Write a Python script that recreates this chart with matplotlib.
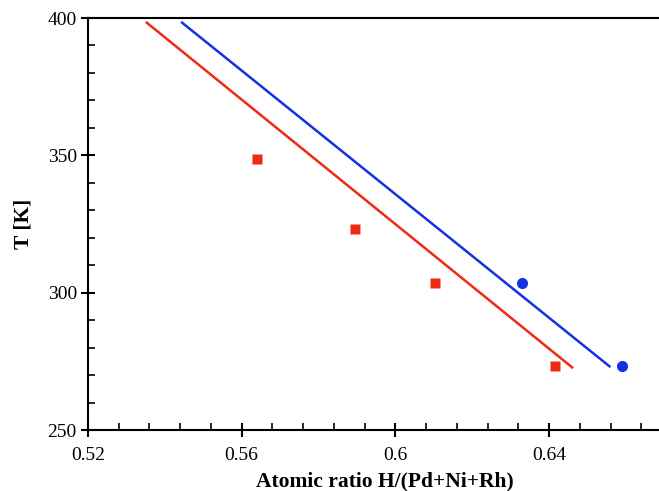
import matplotlib
matplotlib.use("Agg")
import matplotlib.pyplot as plt
from matplotlib.ticker import MultipleLocator

plt.rcParams['font.family'] = ['Liberation Serif', 'DejaVu Serif']

# measured points
red_x = [0.564, 0.5895, 0.6102, 0.6415]
red_y = [348.5, 323.2, 303.4, 273.2]
blue_x = [0.633, 0.659]
blue_y = [303.4, 273.2]

# fitted lines (end points)
red_line_x = [0.5353, 0.646]
red_line_y = [398.3, 272.8]
blue_line_x = [0.5445, 0.6557]
blue_line_y = [398.3, 273.2]

red = '#ee2a12'
blue = '#1232e2'

fig = plt.figure(figsize=(6.59, 4.91), dpi=100)
ax = fig.add_axes([0.1335, 0.1242, 0.8665, 0.8391])

ax.plot(red_line_x, red_line_y, color=red, lw=1.8)
ax.plot(blue_line_x, blue_line_y, color=blue, lw=1.8)
ax.plot(red_x, red_y, 's', color=red, ms=7.5, mec='none')
ax.plot(blue_x, blue_y, 'o', color=blue, ms=8, mec='none')

ax.set_xlim(0.52, 0.6686)
ax.set_ylim(250, 400)
ax.xaxis.set_minor_locator(MultipleLocator(0.008))
ax.yaxis.set_minor_locator(MultipleLocator(10))
ax.set_xticks([0.52, 0.56, 0.6, 0.64])
ax.set_xticklabels(['0.52', '0.56', '0.6', '0.64'])
ax.set_yticks([250, 300, 350, 400])

ax.spines['right'].set_visible(False)
for s in ['left', 'top', 'bottom']:
    ax.spines[s].set_linewidth(1.5)

ax.tick_params(which='major', direction='inout', length=10, width=1.5, labelsize=14)
ax.tick_params(which='minor', direction='in', length=5, width=1.2)
ax.tick_params(axis='x', pad=7)
ax.tick_params(axis='y', pad=3)

ax.set_xlabel('Atomic ratio H/(Pd+Ni+Rh)', fontsize=15.5, fontweight='bold', va='center')
ax.xaxis.set_label_coords(0.52, -0.124)
ax.set_ylabel('T [K]', fontsize=15.5, fontweight='bold', labelpad=10)

fig.savefig('out.png', dpi=100)
